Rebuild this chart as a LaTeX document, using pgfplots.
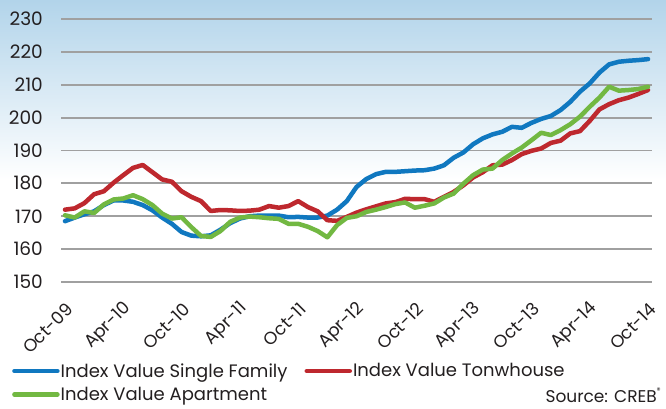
\documentclass[border=0pt]{standalone}
\usepackage{fontspec}
\setmainfont{Poppins}
\usepackage{pgfplots}
\pgfplotsset{compat=1.18}
\definecolor{cblue}{RGB}{16,120,192}
\definecolor{cred}{RGB}{190,40,46}
\definecolor{cgreen}{RGB}{114,184,66}
\definecolor{cgrid}{RGB}{160,160,160}
\definecolor{bgtop}{RGB}{178,212,234}
\definecolor{ctext}{RGB}{35,31,32}
\begin{document}
\begin{tikzpicture}
\useasboundingbox (0pt,0pt) rectangle (666pt,409pt);
\fill[white] (0pt,0pt) rectangle (666pt,409pt);
\shade[top color=bgtop, bottom color=white] (0pt,229pt) rectangle (666pt,409pt);
\begin{axis}[
  at={(61pt,127pt)}, anchor=south west,
  scale only axis, width=591pt, height=263pt,
  xmin=-0.41, xmax=60.41, ymin=150, ymax=230,
  clip=false,
  axis line style={draw=none},
  major tick length=0pt,
  ytick={150,160,...,230},
  xtick={0,6,...,60},
  xticklabels={Oct-09,Apr-10,Oct-10,Apr-11,Oct-11,Apr-12,Oct-12,Apr-13,Oct-13,Apr-14,Oct-14},
  ymajorgrids, xmajorgrids=false,
  major grid style={line width=1.8pt, cgrid},
  tick label style={text=ctext},
  yticklabel style={font=\fontsize{18.5}{22}\selectfont},
  /pgf/number format/assume math mode=true,
  yticklabel style={inner sep=0pt, xshift=-18pt},
  xticklabel style={font=\fontsize{17.5}{20}\selectfont, inner sep=0pt, xshift=5pt, yshift=-24pt, rotate=45, anchor=east},
  legend columns=2,
  legend cell align=left,
  legend style={at={(axis description cs:-0.0829,-0.305)}, anchor=north west, draw=none, fill=none,
    font=\fontsize{18}{20}\selectfont, text=ctext, inner sep=0pt, row sep=6.5pt,
    nodes={inner sep=1pt},
    /tikz/every even column/.append style={column sep=16pt}},
  legend image code/.code={\draw[#1, line width=4.5pt] (0pt,0pt) -- (43pt,0pt);},
  every axis plot/.append style={line width=4.5pt, line join=round, line cap=round},
]
\addplot[cblue] table {
0 168.5
1 169.6
2 170.6
3 171.5
4 173.4
5 174.8
6 174.8
7 174.4
8 173.4
9 171.8
10 169.6
11 167.7
12 165.2
13 164.1
14 163.9
15 164.2
16 165.9
17 167.9
18 169.3
19 170.0
20 170.2
21 170.2
22 170.2
23 169.7
24 169.8
25 169.6
26 169.6
27 170.2
28 172.0
29 174.6
30 178.9
31 181.3
32 182.8
33 183.5
34 183.5
35 183.7
36 183.9
37 184.0
38 184.5
39 185.5
40 187.8
41 189.4
42 191.9
43 193.7
44 194.9
45 195.7
46 197.2
47 196.9
48 198.4
49 199.6
50 200.5
51 202.3
52 204.8
53 207.9
54 210.4
55 213.7
56 216.2
57 217.0
58 217.3
59 217.5
60 217.8
};
\addlegendentry{Index Value Single Family}
\addplot[cred] table {
0 172.0
1 172.4
2 174.0
3 176.7
4 177.6
5 180.2
6 182.5
7 184.7
8 185.6
9 183.4
10 181.2
11 180.5
12 177.6
13 175.9
14 174.6
15 171.6
16 171.9
17 171.8
18 171.6
19 171.7
20 172.0
21 173.1
22 172.6
23 173.1
24 174.6
25 172.8
26 171.5
27 168.8
28 168.6
29 169.8
30 171.1
31 172.1
32 173.0
33 173.9
34 174.3
35 175.3
36 175.2
37 175.2
38 174.4
39 175.9
40 177.4
41 179.4
42 181.8
43 183.4
44 185.5
45 185.7
46 187.1
47 188.9
48 189.9
49 190.6
50 192.3
51 193.0
52 195.2
53 195.9
54 199.0
55 202.5
56 204.1
57 205.3
58 206.1
59 207.2
60 208.4
};
\addlegendentry{Index Value Tonwhouse}
\addplot[cgreen] table {
0 170.3
1 169.6
2 171.5
3 171.0
4 173.6
5 175.1
6 175.4
7 176.4
8 175.2
9 173.4
10 170.8
11 169.3
12 169.7
13 166.7
14 164.0
15 163.7
16 165.5
17 168.3
18 169.6
19 169.9
20 169.7
21 169.4
22 169.2
23 167.7
24 167.7
25 166.8
26 165.5
27 163.6
28 167.3
29 169.5
30 170.0
31 171.3
32 172.0
33 172.8
34 173.7
35 174.2
36 172.6
37 173.2
38 173.9
39 175.7
40 176.9
41 179.9
42 182.5
43 184.2
44 184.5
45 187.1
46 189.1
47 190.9
48 193.1
49 195.4
50 194.7
51 196.2
52 198.0
53 200.3
54 203.3
55 206.1
56 209.4
57 208.2
58 208.4
59 208.7
60 209.4
};
\addlegendentry{Index Value Apartment}
\end{axis}
\node[anchor=east, inner sep=0pt, font=\fontsize{17}{20}\selectfont, text=ctext] at (661pt,14pt) {Source: CREB\raisebox{0.55em}{\fontsize{8}{8}\selectfont ®}};
\end{tikzpicture}
\end{document}
